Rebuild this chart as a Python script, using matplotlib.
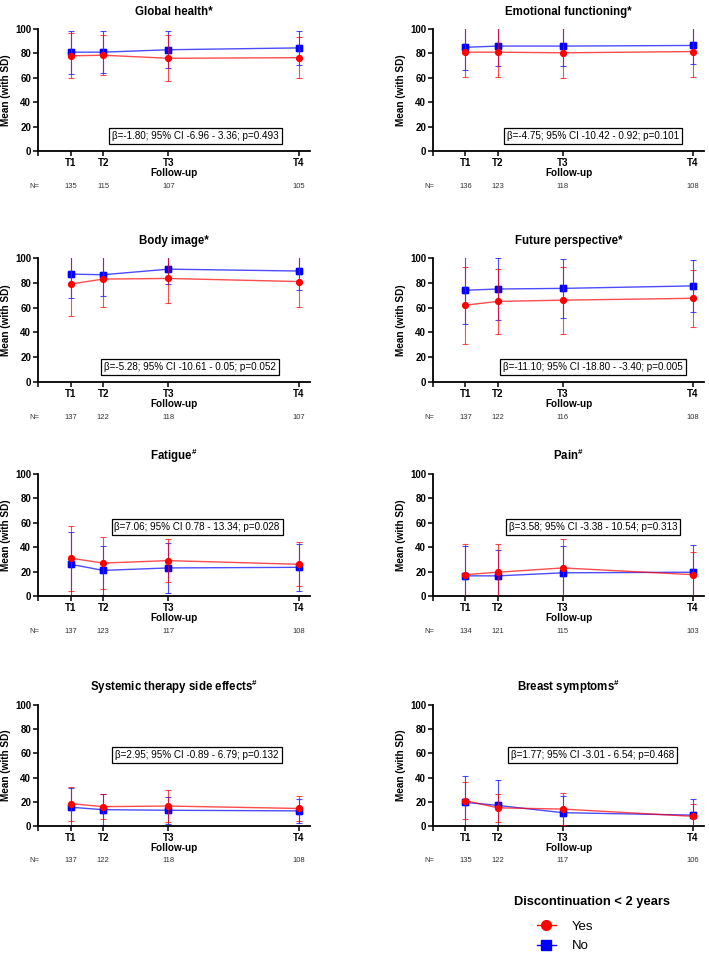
import matplotlib
matplotlib.use("Agg")
import matplotlib.pyplot as plt
from matplotlib.lines import Line2D
import matplotlib.transforms as mtrans

plt.rcParams['font.family'] = ['Liberation Sans', 'DejaVu Sans']
plt.rcParams['mathtext.fontset'] = 'custom'
plt.rcParams['mathtext.rm'] = 'Liberation Sans:bold'
plt.rcParams['mathtext.it'] = 'Liberation Sans:bold'
plt.rcParams['mathtext.bf'] = 'Liberation Sans:bold'

# follow-up moments (relative spacing as in the figure)
x_pos = [0, 1, 3, 7]
tick_labels = ['T1', 'T2', 'T3', 'T4']

titles = ['Global health*', 'Emotional functioning*',
          'Body image*', 'Future perspective*',
          r'Fatigue$^{\#}$', r'Pain$^{\#}$',
          r'Systemic therapy side effects$^{\#}$', r'Breast symptoms$^{\#}$']

yes_mean = [[78, 78.5, 76, 76.5],
            [81, 81, 80.5, 81.5],
            [79, 83, 83.5, 81],
            [62, 65, 66, 67.5],
            [31, 27, 29, 26],
            [17.5, 19.5, 23, 17.5],
            [18.5, 16, 16.5, 14.5],
            [21, 15, 14, 8]]
yes_sd = [[18.5, 16.5, 19, 17],
          [20.5, 20, 20.5, 21],
          [26, 22.5, 19.5, 20.5],
          [31, 26.5, 27, 23],
          [26.5, 21.5, 17.75, 18],
          [25, 23, 24, 18.5],
          [14, 10.5, 13.25, 10.5],
          [15, 11.5, 13.5, 10]]
no_mean = [[81, 81, 83, 84.5],
           [85, 86, 86, 86.5],
           [87, 86.5, 91, 89.5],
           [74, 75, 75.5, 77.5],
           [26, 21, 23, 23.5],
           [16.5, 16.5, 19, 19.5],
           [15.5, 13.5, 13, 12.5],
           [19.5, 17, 11, 9]]
no_sd = [[17.5, 17, 15, 14],
         [18.5, 16.5, 16, 15.5],
         [19, 17, 12, 15.5],
         [27, 25, 24, 21],
         [26.5, 20, 20.5, 19.5],
         [24.5, 21.5, 22, 22.5],
         [15.5, 13, 11, 10],
         [21.5, 21, 13.5, 13]]
n_counts = [[135, 115, 107, 105],
            [136, 123, 118, 108],
            [137, 122, 118, 107],
            [137, 122, 116, 108],
            [137, 123, 117, 108],
            [134, 121, 115, 103],
            [137, 122, 118, 108],
            [135, 122, 117, 106]]
stats = ['β=-1.80; 95% CI -6.96 - 3.36; p=0.493',
         'β=-4.75; 95% CI -10.42 - 0.92; p=0.101',
         'β=-5.28; 95% CI -10.61 - 0.05; p=0.052',
         'β=-11.10; 95% CI -18.80 - -3.40; p=0.005',
         'β=7.06; 95% CI 0.78 - 13.34; p=0.028',
         'β=3.58; 95% CI -3.38 - 10.54; p=0.313',
         'β=2.95; 95% CI -0.89 - 6.79; p=0.132',
         'β=1.77; 95% CI -3.01 - 6.54; p=0.468']
stat_pos = [(0.58, 12), (0.59, 12), (0.56, 12), (0.59, 12),
            (0.585, 56.5), (0.59, 56.5), (0.585, 58.7), (0.59, 58.7)]

W, H = 709, 958
fig = plt.figure(figsize=(W / 100, H / 100), dpi=100)

col_x = [(38, 310), (433, 704)]
row_y = [(29, 151), (258, 382), (474, 596), (705, 826)]

for i in range(8):
    r, c = divmod(i, 2)
    x0, x1 = col_x[c]
    ytop, ybot = row_y[r]
    ax = fig.add_axes([x0 / W, 1 - ybot / H, (x1 - x0) / W, (ybot - ytop) / H])

    ax.errorbar(x_pos, no_mean[i], yerr=no_sd[i], color='#0000FF', marker='s',
                markersize=4, linewidth=1, elinewidth=0.8, capsize=2.5,
                capthick=0.8, alpha=0.7, zorder=2)
    ax.plot(x_pos, no_mean[i], 's', color='#0000FF', markersize=4, zorder=3)
    ax.errorbar(x_pos, yes_mean[i], yerr=yes_sd[i], color='#FF0000', marker='o',
                markersize=4, linewidth=1, elinewidth=0.8, capsize=2.5,
                capthick=0.8, alpha=0.7, zorder=4)
    ax.plot(x_pos, yes_mean[i], 'o', color='#FF0000', markersize=4, zorder=5)

    ax.set_xlim(-1, 7.35)
    ax.set_ylim(0, 100)
    ax.set_yticks([0, 20, 40, 60, 80, 100])
    ax.set_xticks([-1] + x_pos)
    ax.set_xticklabels([''] + tick_labels)
    for s in ['top', 'right']:
        ax.spines[s].set_visible(False)
    for s in ['left', 'bottom']:
        ax.spines[s].set_linewidth(1.3)
    ax.tick_params(width=1.1, length=3.5, labelsize=7, pad=1.5)
    for lab in ax.get_xticklabels() + ax.get_yticklabels():
        lab.set_fontweight('bold')
    ax.set_ylabel('Mean (with SD)', fontsize=7.2, fontweight='bold', labelpad=3)
    ax.set_xlabel('Follow-up', fontsize=7.2, fontweight='bold', labelpad=0)
    ax.set_title(titles[i], fontsize=8.3, fontweight='bold', pad=10)

    bx, by = stat_pos[i]
    ax.text(bx, by, stats[i], transform=mtrans.blended_transform_factory(ax.transAxes, ax.transData),
            ha='center', va='center', fontsize=7.1,
            bbox=dict(boxstyle='square,pad=0.3', fc='white', ec='black', lw=0.9), zorder=10)

    trans = mtrans.blended_transform_factory(ax.transData, ax.transAxes)
    ax.text(-1.1, -0.287, 'N=', transform=trans, ha='center', va='center', fontsize=5.5, color='#333333')
    for xp, n in zip(x_pos, n_counts[i]):
        ax.text(xp, -0.287, str(n), transform=trans, ha='center', va='center',
                fontsize=5.5, color='#333333')

fig.text(592 / W, 1 - 902 / H, 'Discontinuation < 2 years', ha='center', va='center',
         fontsize=9.3, fontweight='bold')
handles = [Line2D([], [], color='#FF0000', marker='o', markersize=7, linewidth=1),
           Line2D([], [], color='#0000FF', marker='s', markersize=7, linewidth=1)]
fig.legend(handles, ['Yes', 'No'], loc='upper left', bbox_to_anchor=(530 / W, 1 - 914 / H),
           frameon=False, fontsize=9.5, handlelength=1.5, handletextpad=1.2,
           labelspacing=0.55, borderpad=0)

fig.savefig('out.png', dpi=100)
